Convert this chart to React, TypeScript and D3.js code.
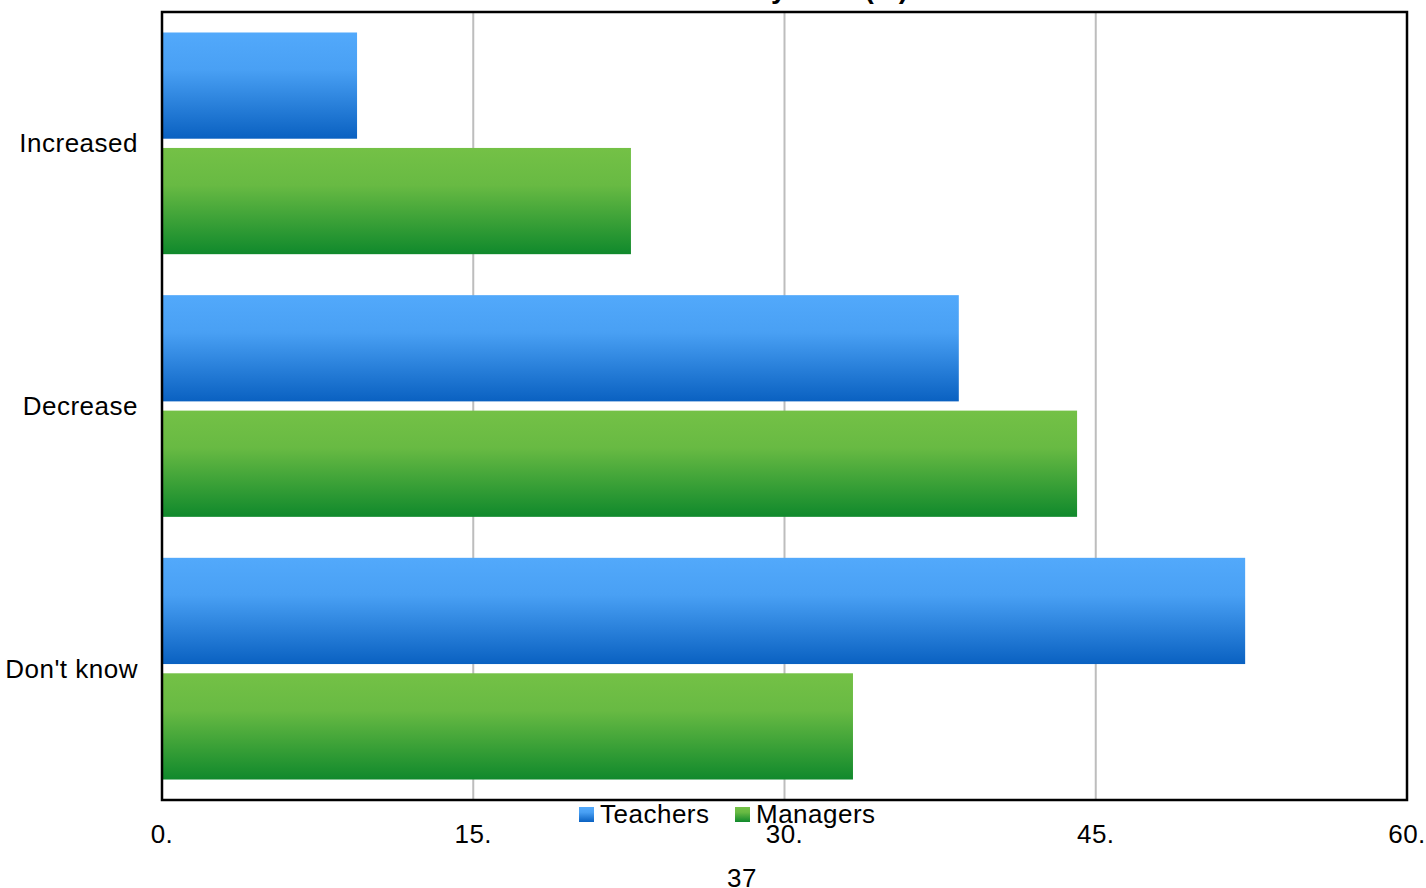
import React from "react";
import * as d3 from "d3";

// Survey responses, percent of each group
const categories = ["Increased", "Decrease", "Don't know"];
const seriesNames = ["Teachers", "Managers"];
const teachers = [9.4, 38.4, 52.2];
const managers = [22.6, 44.1, 33.3];
const xTicks = [0, 15, 30, 45, 60];
const xTickLabels = ["0.", "15.", "30.", "45.", "60."];
const chartTitle = "Salary level (%)";
const pageNumber = "37";

const W = 1426;
const H = 888;
const margin = { left: 162, right: 19, top: 12, bottom: 88 };
const FONT = "'Liberation Sans', Arial, sans-serif";
const LS = 0.5;

const gradients = [
  { id: "gradBlue", top: "#52a9fb", bottom: "#0a61c1" },
  { id: "gradGreen", top: "#74c146", bottom: "#10892c" },
];

export default function App() {
  const x0 = margin.left;
  const x1 = W - margin.right;
  const y0 = margin.top;
  const y1 = H - margin.bottom;

  const x = d3.scaleLinear().domain([0, 60]).range([x0, x1]);
  const y = d3
    .scaleBand<string>()
    .domain(categories)
    .range([y0, y1])
    .paddingInner(0.156)
    .paddingOuter(0.078);
  const inner = d3
    .scaleBand<string>()
    .domain(seriesNames)
    .range([0, y.bandwidth()])
    .paddingInner(0.08);

  const values = [teachers, managers];

  return (
    <svg
      width={W}
      height={H}
      style={{ position: "absolute", left: 0, top: 0, background: "#fff" }}
      fontFamily={FONT}
    >
      <defs>
        {gradients.map((g) => (
          <linearGradient key={g.id} id={g.id} x1="0" y1="0" x2="0" y2="1">
            <stop offset="0" stopColor={g.top} />
            <stop offset="0.35" stopColor={d3.interpolateRgb(g.top, g.bottom)(0.12)} />
            <stop offset="1" stopColor={g.bottom} />
          </linearGradient>
        ))}
      </defs>

      {/* title, mostly above the visible page */}
      <text x={908} y={-2} textAnchor="end" fontSize={28} fontWeight="bold" fill="#000">
        {chartTitle}
      </text>

      {/* vertical gridlines */}
      {xTicks.slice(1, -1).map((t) => (
        <line key={t} x1={x(t)} x2={x(t)} y1={y0} y2={y1} stroke="#bdbdbd" strokeWidth={2} />
      ))}

      {/* bars */}
      {categories.map((c, i) =>
        seriesNames.map((s, j) => (
          <rect
            key={c + s}
            x={x(0)}
            y={(y(c) as number) + (inner(s) as number)}
            width={x(values[j][i]) - x(0)}
            height={inner.bandwidth()}
            fill={`url(#${gradients[j].id})`}
          />
        ))
      )}

      {/* frame */}
      <rect x={x0} y={y0} width={x1 - x0} height={y1 - y0} fill="none" stroke="#000" strokeWidth={2.5} />

      {/* category labels */}
      {categories.map((c) => (
        <text
          key={c}
          x={138}
          y={(y(c) as number) + y.bandwidth() / 2}
          textAnchor="end"
          dominantBaseline="central"
          fontSize={26}
          letterSpacing={LS}
          fill="#000"
        >
          {c}
        </text>
      ))}

      {/* x tick labels */}
      {xTicks.map((t, i) => (
        <text key={t} x={x(t)} y={843} textAnchor="middle" fontSize={26} letterSpacing={LS} fill="#000">
          {xTickLabels[i]}
        </text>
      ))}

      {/* legend */}
      {seriesNames.map((s, j) => {
        const lx = j === 0 ? 579 : 735;
        return (
          <g key={s}>
            <rect x={lx} y={807} width={15} height={15} fill={`url(#${gradients[j].id})`} />
            <text x={lx + 21} y={823} fontSize={26} letterSpacing={LS} fill="#000">
              {s}
            </text>
          </g>
        );
      })}

      <text x={742} y={887} textAnchor="middle" fontSize={26} letterSpacing={LS} fill="#000">
        {pageNumber}
      </text>
    </svg>
  );
}
